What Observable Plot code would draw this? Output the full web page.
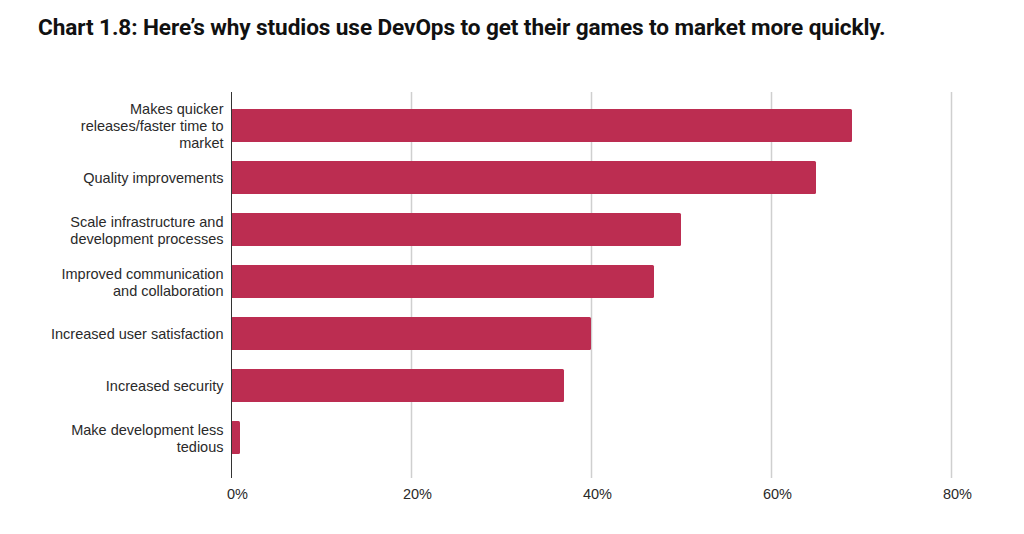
<!DOCTYPE html>
<html>
<head>
<meta charset="utf-8">
<script src="https://cdn.jsdelivr.net/npm/d3@7"></script>
<script src="https://cdn.jsdelivr.net/npm/@observablehq/plot@0.6"></script>
<style>
  html, body { margin: 0; padding: 0; background: #fff; width: 1024px; height: 534px; overflow: hidden; }
  #title { position: absolute; left: 38px; top: 15px; font: 700 22.6px Roboto, "Liberation Sans", sans-serif; line-height: 26px; color: #111; white-space: nowrap; letter-spacing: -0.1px; }
  #chart { position: absolute; left: 0; top: 55px; }
</style>
</head>
<body>
<div id="title">Chart 1.8: Here’s why studios use DevOps to get their games to market more quickly.</div>
<div id="chart"></div>
<script>
// Reasons studios give for adopting DevOps (share of respondents, %)
const reasons = [
  "Makes quicker\nreleases/faster time to\nmarket",
  "Quality improvements",
  "Scale infrastructure and\ndevelopment processes",
  "Improved communication\nand collaboration",
  "Increased user satisfaction",
  "Increased security",
  "Make development less\ntedious"
];
const shares = [69, 65, 50, 47, 40, 37, 1];
const xTicks = [0, 20, 40, 60, 80];

const data = reasons.map((r, i) => ({reason: r, share: shares[i]}));

const chart = Plot.plot({
  width: 1024,
  height: 479,
  marginTop: 37,
  marginBottom: 56,
  marginLeft: 231,
  marginRight: 73,
  style: {fontFamily: "'Liberation Sans', Arial, sans-serif", fontSize: "14.5px", color: "#2a2a2a", background: "#fff"},
  x: {domain: [0, 80], ticks: xTicks, tickFormat: d => d + "%", label: null},
  y: {domain: reasons, paddingInner: 0.37, paddingOuter: 0.185, insetTop: 5, insetBottom: 12, label: null},
  marks: [
    Plot.ruleX(xTicks.filter(d => d > 0), {stroke: "#cfcfcf", strokeWidth: 1.5}),
    Plot.barX(data, {y: "reason", x: "share", fill: "#BC2D51", rx: 1.5}),
    Plot.ruleX([0], {stroke: "#333", strokeWidth: 1}),
    Plot.axisX({ticks: xTicks, tickFormat: d => d + "%", tickSize: 0, tickPadding: 10, dx: 6, fontSize: 14.5, anchor: "bottom", label: null}),
    Plot.axisY({tickSize: 0, tickPadding: 8, fontSize: 14.5, lineHeight: 1.17, label: null, textOverflow: null})
  ]
});
document.getElementById("chart").appendChild(chart);
</script>
</body>
</html>
